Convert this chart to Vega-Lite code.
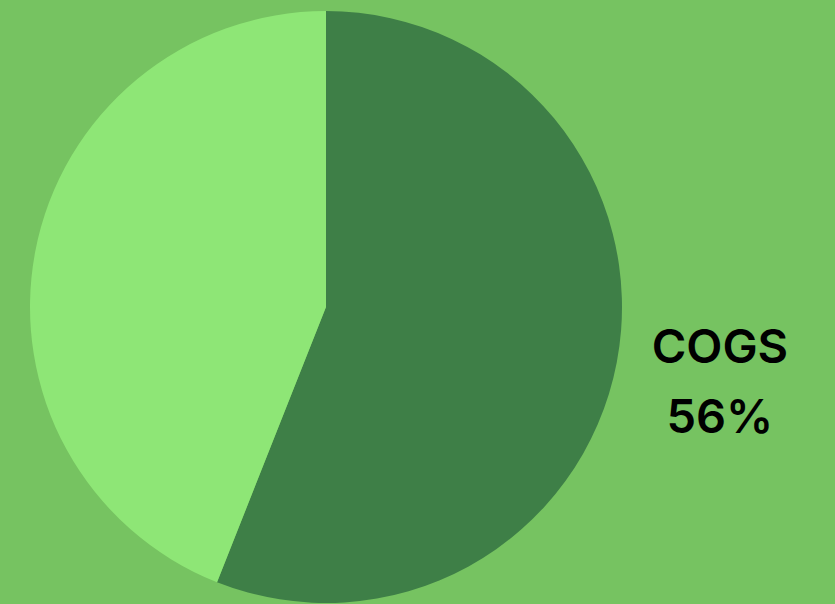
{
  "$schema": "https://vega.github.io/schema/vega-lite/v6.json",
  "width": 652,
  "height": 592,
  "autosize": "none",
  "padding": {"left": 0, "top": 11, "right": 183, "bottom": 1},
  "background": "#76c361",
  "config": {"view": {"stroke": null}},
  "data": {
    "values": [
      {"category": "COGS", "share": 56, "rank": 1, "label": "COGS\n56%"},
      {"category": "Other", "share": 44, "rank": 2, "label": ""}
    ]
  },
  "encoding": {
    "theta": {"field": "share", "type": "quantitative", "stack": true},
    "order": {"field": "rank", "type": "quantitative"}
  },
  "layer": [
    {
      "mark": {"type": "arc"},
      "encoding": {
        "color": {
          "field": "category",
          "type": "nominal",
          "scale": {"domain": ["COGS", "Other"], "range": ["#3e7f47", "#8ee676"]},
          "legend": null
        }
      }
    },
    {
      "mark": {
        "type": "text",
        "radius": 401,
        "dy": -33,
        "font": "Inter",
        "fontWeight": 600,
        "fontSize": 47,
        "lineBreak": "\n",
        "lineHeight": 70,
        "align": "center",
        "baseline": "middle",
        "color": "#000000"
      },
      "encoding": {
        "text": {"field": "label"}
      }
    }
  ]
}
